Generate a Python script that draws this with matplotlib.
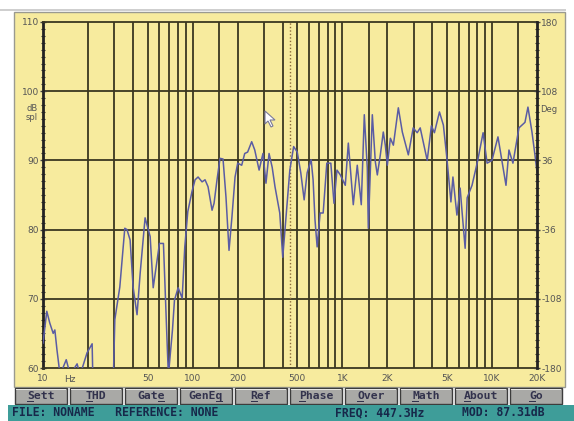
import matplotlib
matplotlib.use("Agg")
import matplotlib.pyplot as plt
from matplotlib.patches import Rectangle, Polygon
import numpy as np

# frequency response trace (Hz, dB spl); values under 60 run off the bottom
freq = [10, 10.6, 11.1, 11.7, 12.0, 12.4, 13.0, 14.3, 15.2, 16.9, 17.7, 19.7,
        21.3, 21.6, 29.4, 30.2, 32.6, 35.2, 36.4, 38.2, 40, 42.5, 44.6, 48.1,
        52, 54.5, 60, 63.8, 67.9, 68.9, 73.3, 75.6, 80, 85.1, 88.6, 92.8, 99,
        103.8, 108.7, 115.6, 121, 126.7, 134.8, 139, 145.5, 152.4, 159.6, 167,
        175, 183, 192, 200, 212.7, 222.8, 233, 248, 260, 278, 295, 309, 324,
        340, 355, 382, 400, 419, 446, 473, 500, 528, 556, 582, 619, 638, 657,
        679, 711, 745, 788, 838, 880, 921, 970, 1047, 1097, 1184, 1259, 1339,
        1403, 1469, 1492, 1587, 1662, 1714, 1795, 1879, 1938, 2000, 2095, 2194,
        2368, 2518, 2762, 2977, 3165, 3316, 3693, 3939, 4125, 4459, 4736, 5000,
        5318, 5486, 5832, 6130, 6318, 6620, 6830, 7360, 8000, 8727, 9281,
        10000, 10970, 12410, 12990, 13810, 15150, 16620, 17400, 18510, 19380,
        20000]
spl = [63.6, 68.2, 66.5, 65.0, 65.5, 62.6, 59.0, 61.2, 59.0, 60.6, 59.0, 62.2,
       63.5, 57.0, 57.0, 67.0, 71.7, 80.2, 80.0, 78.5, 71.7, 67.7, 73.7, 81.7,
       79.0, 71.6, 78.0, 78.0, 62.2, 59.0, 65.5, 69.8, 71.6, 70.1, 77.5, 82.6,
       85.5, 87.2, 87.6, 86.9, 87.2, 86.2, 82.8, 83.8, 87.2, 90.3, 90.2, 84.7,
       77.0, 81.8, 87.6, 89.6, 89.3, 91.0, 91.2, 92.7, 91.5, 88.6, 91.0, 86.7,
       91.0, 89.0, 86.2, 82.4, 76.0, 81.4, 88.6, 92.0, 91.2, 88.2, 84.3, 88.2,
       90.1, 87.2, 81.4, 77.5, 82.4, 82.4, 89.6, 89.6, 83.8, 88.6, 87.9, 86.4,
       92.5, 83.6, 89.3, 83.6, 96.6, 88.9, 80.2, 96.6, 89.8, 87.9, 90.8, 94.1,
       92.2, 89.3, 93.2, 92.2, 97.6, 94.1, 90.8, 94.7, 94.0, 94.7, 90.0, 95.0,
       94.0, 97.0, 95.1, 90.3, 84.0, 87.6, 82.1, 86.0, 82.5, 77.3, 84.6, 86.4,
       89.8, 94.0, 89.6, 90.0, 93.4, 86.4, 91.5, 89.6, 94.7, 95.5, 97.7, 94.1,
       90.8, 88.3]

grid_freqs = [20, 30, 40, 50, 60, 70, 80, 90, 100, 150, 200, 300, 400, 500,
              600, 700, 800, 900, 1000, 1500, 2000, 3000, 4000, 5000, 6000,
              7000, 8000, 9000, 10000, 15000]
x_ticks = [10, 50, 100, 200, 500, 1000, 2000, 5000, 10000, 20000]
x_labels = ["10", "50", "100", "200", "500", "1K", "2K", "5K", "10K", "20K"]
db_ticks = [60, 70, 80, 90, 100, 110]
deg_ticks = [-180, -108, -36, 36, 108, 180]
cursor_freq = 447.3

buttons = ["Sett", "THD", "Gate", "GenEq", "Ref", "Phase", "Over", "Math", "About", "Go"]
hot_keys = [0, 0, 3, 4, 0, 0, 0, 0, 0, 0]

W, H = 574, 421
fig = plt.figure(figsize=(W / 100, H / 100), dpi=100)
fig.patch.set_facecolor("white")


def box(x, y, w, h, z=1, **kw):
    # rectangle given in screen pixels (top-left origin)
    r = Rectangle((x / W, 1 - (y + h) / H), w / W, h / H, transform=fig.transFigure,
                  zorder=z, **kw)
    fig.patches.append(r)


bg = "#f7eb9e"
grid_c = "#3a3720"

box(0, 9, 566, 1.5, z=-2, color="#cfcfcf", lw=0)
box(14, 12, 551, 375, z=-2, facecolor=bg, edgecolor="#9a9a90", lw=1)

ax = fig.add_axes([43 / W, 1 - 368 / H, 494 / W, 346 / H])
ax.set_facecolor(bg)
ax.set_xscale("log")
ax.set_xlim(10, 20000)
ax.set_ylim(60, 110)

for f in grid_freqs:
    ax.axvline(f, color=grid_c, lw=1.3, zorder=1)
for d in db_ticks[1:-1]:
    ax.axhline(d, color=grid_c, lw=1.3, zorder=1)
ax.axvline(cursor_freq, color="#8a6a3a", lw=1.0, ls=(0, (1, 1.5)), zorder=2)

ax.plot(freq, spl, color="#5a5ca4", lw=1.1, zorder=3)

ax.set_xticks(x_ticks)
ax.set_xticklabels(x_labels)
ax.xaxis.set_minor_locator(matplotlib.ticker.NullLocator())
ax.set_yticks(db_ticks)
ax.set_yticks(np.arange(60, 111, 1), minor=True)
ax.tick_params(axis="x", length=0, pad=4, labelsize=6.5, colors="#555555")
ax.tick_params(axis="y", which="major", length=4, width=1, direction="inout",
               labelsize=6.5, colors="#444444", labelcolor="#555555", pad=1)
ax.tick_params(axis="y", which="minor", length=2.5, width=0.8, direction="inout", colors="#333333")
for s in ["top", "bottom"]:
    ax.spines[s].set_color(grid_c)
    ax.spines[s].set_linewidth(1.3)
ax.spines["left"].set_linewidth(2)
ax.spines["left"].set_color("#222222")
ax.spines["right"].set_visible(False)

ax2 = ax.twinx()
ax2.set_ylim(-180, 180)
ax2.set_yticks(deg_ticks)
ax2.set_yticklabels([str(v) for v in deg_ticks])
ax2.set_yticks(np.arange(-180, 181, 7.2), minor=True)
ax2.tick_params(axis="y", which="major", length=4, width=1, direction="inout",
                labelsize=6.5, colors="#444444", labelcolor="#555555", pad=1)
ax2.tick_params(axis="y", which="minor", length=2.5, width=0.8, direction="inout", colors="#333333")
ax2.spines["right"].set_linewidth(2)
ax2.spines["right"].set_color("#222222")
for s in ["top", "bottom", "left"]:
    ax2.spines[s].set_visible(False)

fig.text(32 / W, 1 - 113 / H, "dB\nspl", fontsize=6, color="#555555", ha="center",
         va="center", linespacing=0.9)
fig.text(540 / W, 1 - 110 / H, "Deg", fontsize=6, color="#555555", ha="left", va="center")
fig.text(70 / W, 1 - 379 / H, "Hz", fontsize=6.5, color="#555555", ha="center", va="center")

# mouse pointer
px = [(265, 111), (265, 124), (268, 121), (271, 127), (273, 126), (270, 120), (275, 120)]
fig.patches.append(Polygon([(a / W, 1 - b / H) for a, b in px], closed=True,
                           transform=fig.transFigure, facecolor="white",
                           edgecolor="#7a7a9a", lw=0.8, zorder=5))

# button row
fs = 8.2
cw = 0.602 * fs * 100 / 72
bx = 15
for i, name in enumerate(buttons):
    box(bx, 388, 52, 16, facecolor="#a9a9a6", edgecolor="#3c3c3c", lw=1)
    box(bx + 1, 389, 50, 1.2, z=2, color="#e6e6e2", lw=0)
    cx = bx + 26
    fig.text(cx / W, 1 - 396 / H, name, fontsize=fs, family="DejaVu Sans Mono",
             weight="bold", color="#33334d", ha="center", va="center")
    ux = cx - len(name) * cw / 2 + hot_keys[i] * cw
    box(ux, 401, cw, 1, z=2, color="#33334d", lw=0)
    bx += 55

# status bar
box(8, 405, W - 8, 16, color="#3e9d99", lw=0)
st = dict(fontsize=8.3, family="DejaVu Sans Mono", weight="bold", color="#17284a", va="center")
fig.text(12 / W, 1 - 413 / H, "FILE: NONAME   REFERENCE: NONE", **st)
fig.text(335 / W, 1 - 413 / H, "FREQ: 447.3Hz", **st)
fig.text(462 / W, 1 - 413 / H, "MOD: 87.31dB", **st)

fig.savefig("out.png", dpi=100)
